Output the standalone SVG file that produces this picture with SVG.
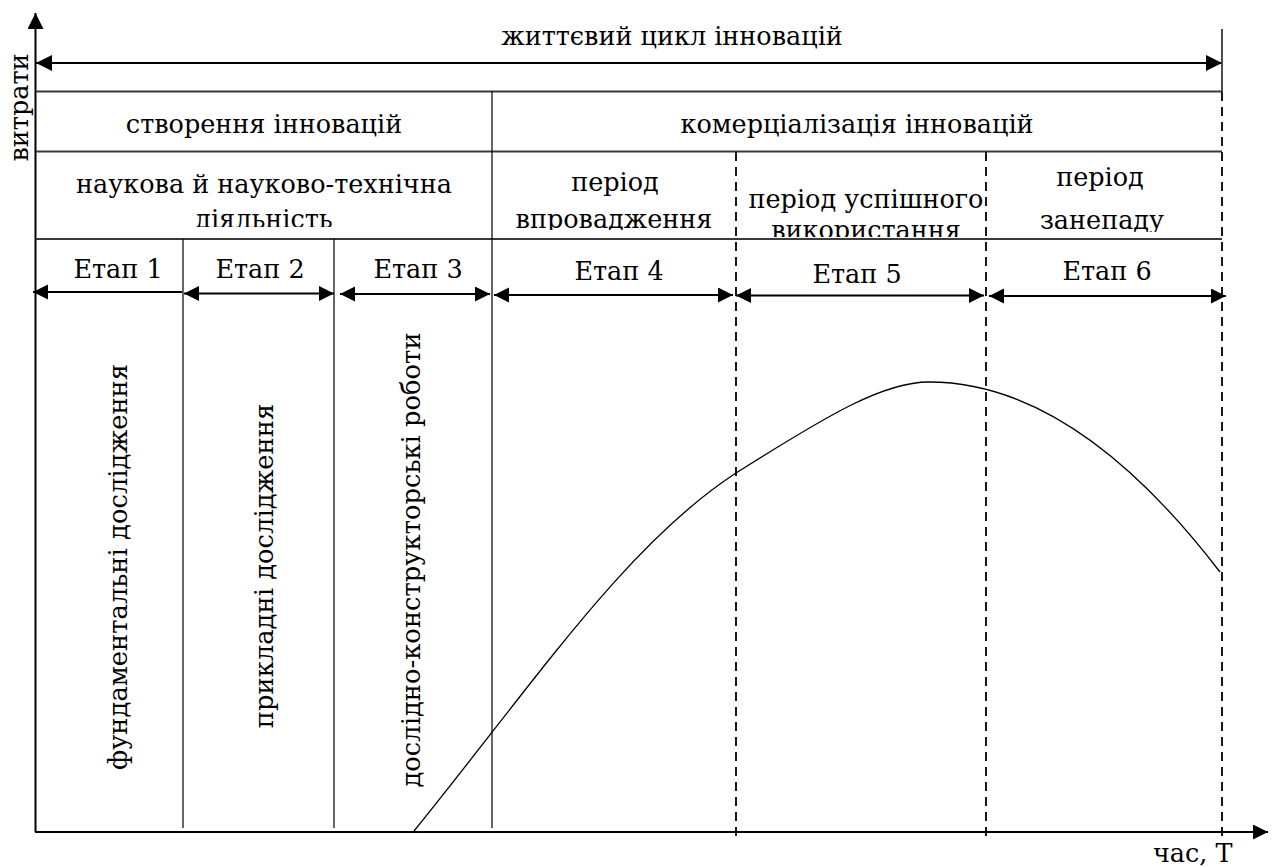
<svg xmlns="http://www.w3.org/2000/svg" width="1278" height="867" viewBox="0 0 1278 867" font-family="DejaVu Serif, serif">
<style>
text{font-size:25.5px;fill:#000}
.v{font-size:25.8px}
.c{text-anchor:middle}
.hl{stroke:#3a3a3a;stroke-width:1.8;fill:none}
.vl{stroke:#000;stroke-width:1.2;fill:none}
.dl{stroke:#000;stroke-width:1.8;stroke-dasharray:9 6;fill:none}
.ax{stroke:#000;stroke-width:2;fill:none}
.ar{stroke:#000;stroke-width:1.8;fill:none}
</style>
<defs>
<marker id="ah" markerUnits="userSpaceOnUse" markerWidth="16" markerHeight="16" refX="15" refY="7.5" orient="auto-start-reverse" viewBox="0 0 16 16">
<path d="M0,0 L15,7.5 L0,15 z" fill="#000"/>
</marker>
<marker id="ahb" markerUnits="userSpaceOnUse" markerWidth="17" markerHeight="17" refX="16" refY="8" orient="auto-start-reverse" viewBox="0 0 17 17">
<path d="M0,0 L16,8 L0,16 z" fill="#000"/>
</marker>
<clipPath id="cl1"><rect x="36" y="152" width="456" height="75"/></clipPath>
<clipPath id="cl4"><rect x="492" y="152" width="244" height="78"/></clipPath>
<clipPath id="cl5"><rect x="736" y="152" width="250" height="85"/></clipPath>
<clipPath id="cl6"><rect x="986" y="152" width="236" height="80"/></clipPath>
</defs>

<g id="connectors">
<line class="ax" x1="35.5" y1="832" x2="35.5" y2="13" marker-end="url(#ahb)"/>
<line class="ax" x1="35" y1="832" x2="1268" y2="832" marker-end="url(#ah)"/>
<line class="ar" x1="36" y1="63" x2="1222" y2="63" marker-start="url(#ahb)" marker-end="url(#ahb)"/>
<line class="hl" x1="36" y1="91.5" x2="1222" y2="91.5"/>
<line class="hl" x1="36" y1="151.5" x2="1222" y2="151.5"/>
<line class="hl" x1="36" y1="239" x2="1222" y2="239"/>
<line class="hl" x1="1222" y1="29" x2="1222" y2="92"/>
<line class="dl" x1="1222" y1="92" x2="1222" y2="836"/>
<line class="dl" x1="736" y1="152" x2="736" y2="836"/>
<line class="dl" x1="986" y1="152" x2="986" y2="836"/>
<line class="vl" x1="492" y1="91" x2="492" y2="828"/>
<line class="vl" x1="183" y1="239" x2="183" y2="828"/>
<line class="vl" x1="334" y1="239" x2="334" y2="828"/>
<line class="ar" x1="33" y1="292" x2="182" y2="292" marker-start="url(#ah)"/>
<line class="ar" x1="184" y1="293.5" x2="334" y2="293.5" marker-start="url(#ah)" marker-end="url(#ah)"/>
<line class="ar" x1="340" y1="294" x2="490" y2="294" marker-start="url(#ah)" marker-end="url(#ah)"/>
<line class="ar" x1="494" y1="295" x2="733" y2="295" marker-start="url(#ah)" marker-end="url(#ah)"/>
<line class="ar" x1="736" y1="295.5" x2="984" y2="295.5" marker-start="url(#ah)" marker-end="url(#ah)"/>
<line class="ar" x1="989" y1="296" x2="1226" y2="296" marker-start="url(#ah)" marker-end="url(#ah)"/>
<path id="curve" d="M414,831 C534,683 626,544.5 736,473 C831,413 884,382 929,382 Q1074.5,382 1220,572" stroke="#000" stroke-width="1.3" fill="none"/>
</g>

<g id="axis-y-label"><text class="c" transform="translate(28,107.5) rotate(-90)">витрати</text></g>
<g id="axis-x-label"><text x="1153" y="862">час, Т</text></g>
<g id="lifecycle"><text class="c" x="672" y="45">життєвий цикл інновацій</text></g>
<g id="creation"><text class="c" x="264" y="133">створення інновацій</text></g>
<g id="commercialization"><text class="c" x="857" y="133">комерціалізація інновацій</text></g>
<g id="science" clip-path="url(#cl1)">
<text class="c" x="264" y="193">наукова й науково-технічна</text>
<text class="c" x="264" y="228">діяльність</text>
</g>
<g id="intro" clip-path="url(#cl4)">
<text class="c" x="615" y="191">період</text>
<text class="c" x="614" y="228">впровадження</text>
</g>
<g id="success" clip-path="url(#cl5)">
<text class="c" x="866" y="208">період успішного</text>
<text class="c" x="866" y="239">використання</text>
</g>
<g id="decline" clip-path="url(#cl6)">
<text class="c" x="1100" y="186">період</text>
<text class="c" x="1102" y="229">занепаду</text>
</g>
<g id="stage1"><text class="c" x="118" y="278">Етап 1</text></g>
<g id="stage2"><text class="c" x="260" y="278">Етап 2</text></g>
<g id="stage3"><text class="c" x="418" y="278">Етап 3</text></g>
<g id="stage4"><text class="c" x="619" y="280">Етап 4</text></g>
<g id="stage5"><text class="c" x="857" y="283">Етап 5</text></g>
<g id="stage6"><text class="c" x="1107" y="280">Етап 6</text></g>
<g id="fundamental"><text class="c v" transform="translate(127,567) rotate(-90)">фундаментальні дослідження</text></g>
<g id="applied"><text class="c v" transform="translate(273,566) rotate(-90)">прикладні дослідження</text></g>
<g id="development"><text class="c v" transform="translate(420,560) rotate(-90)">дослідно-конструкторські роботи</text></g>
</svg>
